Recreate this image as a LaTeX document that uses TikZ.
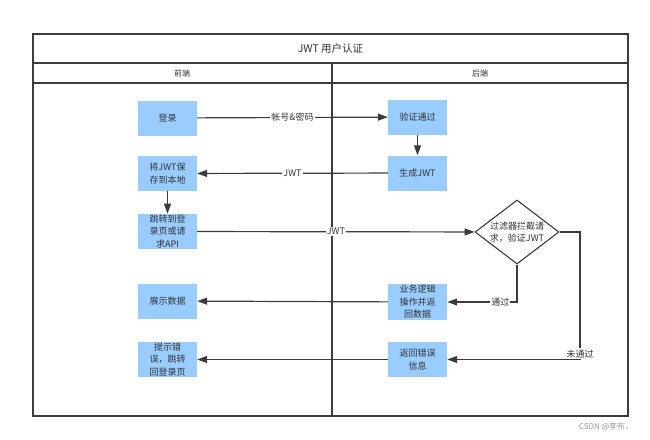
\documentclass[tikz,border=0pt]{standalone}
\usepackage{fontspec}
\setmainfont{Noto Sans CJK SC}
\usetikzlibrary{arrows.meta,shapes.geometric}
\definecolor{boxblue}{RGB}{153,204,255}
\definecolor{txt}{RGB}{51,51,51}
\definecolor{ln}{RGB}{60,60,60}
\begin{document}
\begin{tikzpicture}[x=1pt,y=-1pt,
  box/.style={fill=boxblue, minimum width=59pt, minimum height=35pt, inner sep=1pt, align=center, text=txt, font=\fontsize{9}{12.5}\selectfont},
  dia/.style={diamond, draw=ln, line width=1.1pt, fill=white, aspect=1.3, minimum width=84pt, minimum height=64pt, inner sep=0pt, align=center, text=txt, font=\fontsize{9}{12.5}\selectfont},
  arr/.style={draw=ln, line width=1.2pt, -{Triangle[length=10pt,width=7pt]}},
  lbl/.style={fill=white, inner sep=1pt, text=txt, font=\fontsize{9}{10}\selectfont},
  frame/.style={draw=ln, line width=1.2pt},
  hdr/.style={text=txt, font=\fontsize{8}{10}\selectfont}
]
\useasboundingbox (0,0) rectangle (650,439);
% frame
\draw[frame] (33,34) rectangle (628,416);
\draw[frame] (33,63) -- (628,63);
\draw[frame] (33,83) -- (628,83);
\draw[frame] (332,63) -- (332,416);
\node[text=txt, font=\fontsize{10.5}{12}\selectfont] (title) at (330.5,48.5) {JWT 用户认证};
\node[hdr] (front) at (182,73) {前端};
\node[hdr] (back) at (480,73) {后端};
% nodes
\node[box] (login) at (167.5,118) {登录};
\node[box] (verify) at (417.5,117) {验证通过};
\node[box] (gen) at (417.5,173) {生成JWT};
\node[box] (save) at (167.5,173.5) {将JWT保\\存到本地};
\node[box] (jump) at (167.5,231.5) {跳转到登\\录页或请\\求API};
\node[dia] (chk) at (517,232) {过滤器拦截请\\求，验证JWT};
\node[box] (biz) at (417.5,302) {业务逻辑\\操作并返\\回数据};
\node[box] (show) at (167.5,301) {展示数据};
\node[box] (tip) at (167.5,359.5) {提示错\\误，跳转\\回登录页};
\node[box] (err) at (417.5,359.5) {返回错误\\信息};
\coordinate (c) at (580,359.5);
% edges
\draw[arr] (login) -- node[lbl] {帐号\&密码} (verify);
\draw[arr] (verify) -- (gen);
\draw[arr] (gen) -- node[lbl] {JWT} (save);
\draw[arr] (save) -- (jump);
\draw[arr] (jump) -- node[lbl] {JWT} (chk);
\draw[arr] (chk.south) |- node[lbl, pos=0.62] {通过} (biz);
\draw[arr] (biz) -- (show);
\draw[arr] (chk.east) -| (c) -- (err);
\node[lbl, anchor=south, inner sep=1.5pt] (nolbl) at (c) {未通过};
\draw[arr] (err) -- (tip);
\node[text=black!40, font=\fontsize{8}{10}\selectfont] (wm) at (606,427) {CSDN @李布，};
\end{tikzpicture}
\end{document}
